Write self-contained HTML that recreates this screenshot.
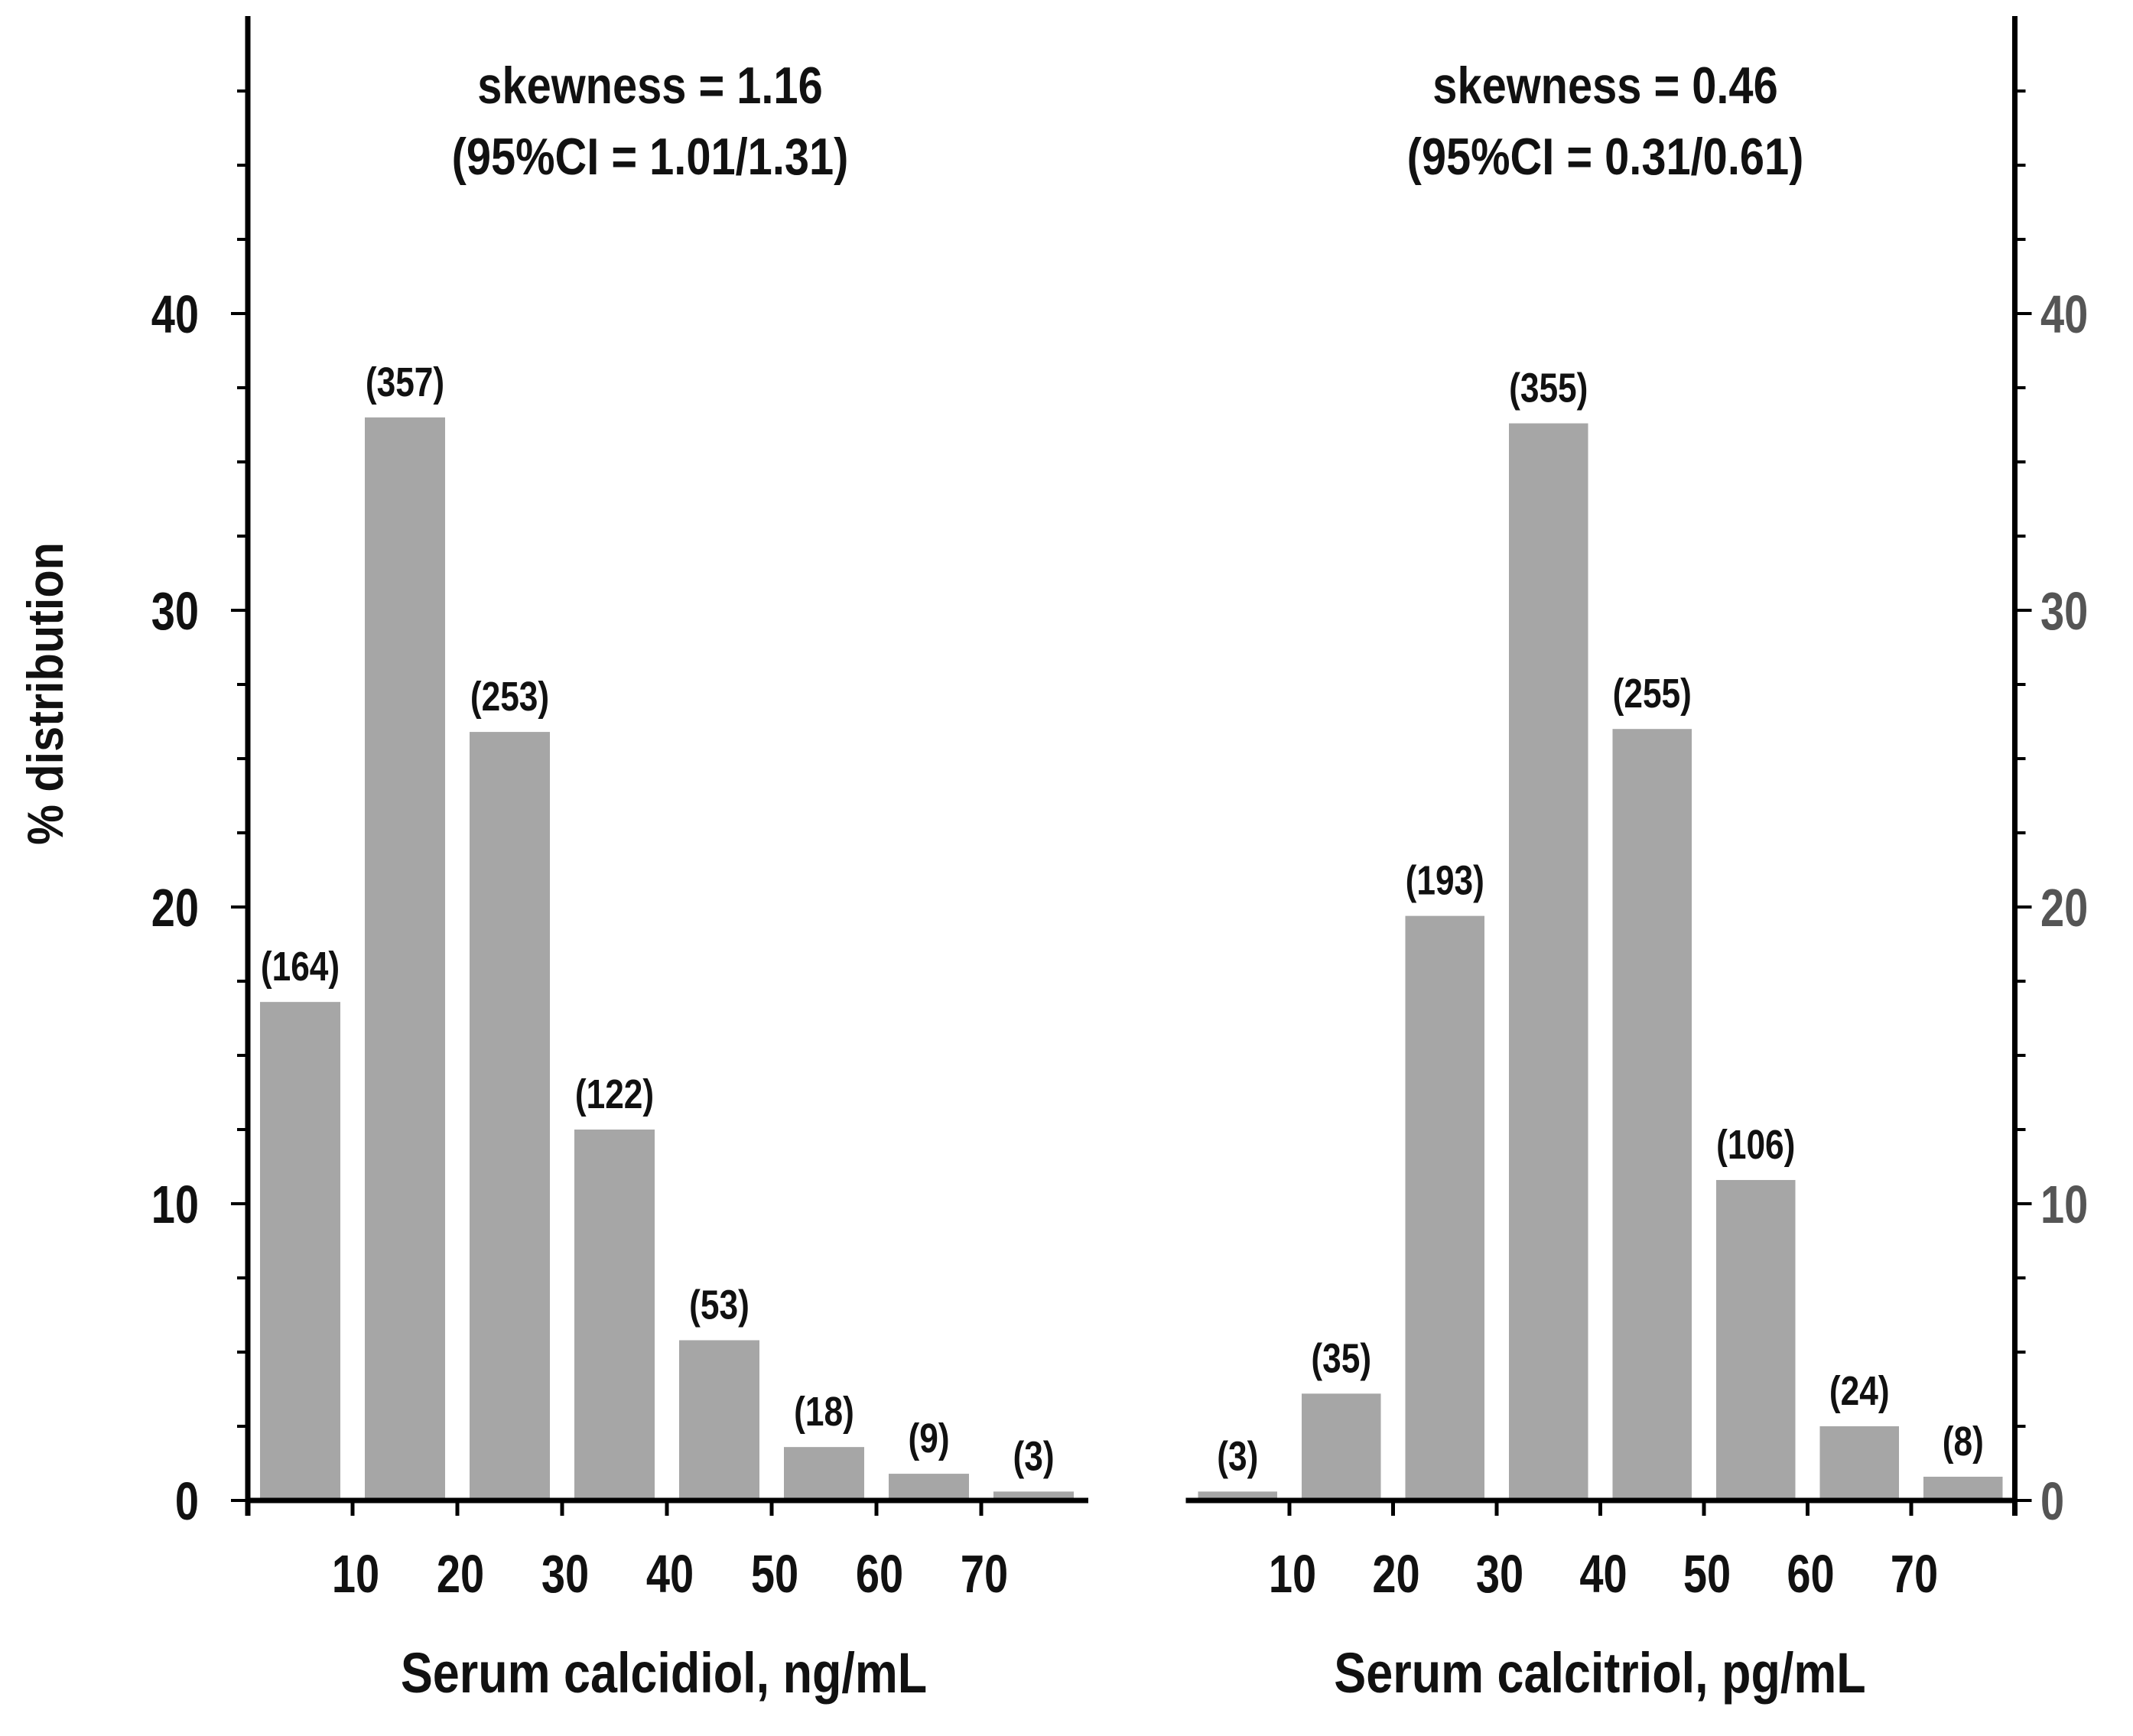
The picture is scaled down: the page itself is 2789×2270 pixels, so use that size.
<!DOCTYPE html>
<html><head><meta charset="utf-8"><style>
body{margin:0;background:#fff}
svg{display:block}
text{font-family:"Liberation Sans",sans-serif;font-weight:bold;fill:#111}
</style></head><body>
<svg id="chart" width="2789" height="2270" viewBox="0 0 2789 2270" xmlns="http://www.w3.org/2000/svg"></svg>
<script>
const bins = [0,10,20,30,40,50,60,70];
const xTicks = [10,20,30,40,50,60,70];
const yTicks = [0,10,20,30,40];
const leftPct = [16.8,36.5,25.9,12.5,5.4,1.8,0.9,0.3];
const leftCounts = ["(164)","(357)","(253)","(122)","(53)","(18)","(9)","(3)"];
const rightPct = [0.3,3.6,19.7,36.3,26.0,10.8,2.5,0.8];
const rightCounts = ["(3)","(35)","(193)","(355)","(255)","(106)","(24)","(8)"];

const NS="http://www.w3.org/2000/svg";
const svg=document.getElementById('chart');
function mk(tag,attrs,txt){const e=document.createElementNS(NS,tag);for(const k in attrs)e.setAttribute(k,attrs[k]);if(txt!==undefined)e.textContent=txt;svg.appendChild(e);return e;}
function tx(x,y,sx,size,anchor,txt,extra){
  const a={x:0,y:0,transform:'translate('+x+','+y+') scale('+sx+',1)','text-anchor':anchor,'font-size':size};
  if(extra)a.style=extra;
  return mk('text',a,txt);
}
const y0=1962, yUnit=38.8;
function yS(v){return y0-v*yUnit;}

function panel(side,x0,unit,pct,counts,title1,title2,xtitle){
  const xS=v=>x0+v*unit;
  const axisX = side==='left'?x0:xS(80);
  pct.forEach((p,i)=>{
    const r=mk('rect',{x:xS(bins[i])+16,y:yS(p),width:unit*10-32,height:y0-yS(p),fill:'#a6a6a6'});
    
    
    const t=tx(xS(bins[i]+5),yS(p)-28,0.82,54,'middle',counts[i]);
    
    
  });
  const xa=mk('line',{x1:xS(0),x2:xS(80)+3,y1:y0,y2:y0,stroke:'#000','stroke-width':7});
  
  
  xTicks.forEach(v=>{
    mk('line',{x1:xS(v),x2:xS(v),y1:y0,y2:y0+20,stroke:'#000','stroke-width':5});
    const t=tx(xS(v)+4,2082,0.8,70,'middle',v);
    
    
  });
  const xt=tx(side==='left'?868:2092,2213,0.85,74,'middle',xtitle);
  
  
  const ya=mk('line',{x1:axisX,x2:axisX,y1:21,y2:y0+20,stroke:'#000','stroke-width':7});
  
  
  const dir=side==='left'?-1:1;
  for(let v=0;v<=47.5;v+=2.5){
    const major=v%10===0;
    mk('line',{x1:axisX,x2:axisX+dir*(major?22:14),y1:yS(v),y2:yS(v),stroke:'#000','stroke-width':4});
  }
  yTicks.forEach(v=>{
    const t=tx(side==='left'?260:2668,yS(v)+25,0.8,70,side==='left'?'end':'start',v,side==='left'?'':'fill:#555');
    
    
  });
  const cx=side==='left'?850:2099;
  const a=tx(cx,135,0.85,68,'middle',title1);
  
  
  const b=tx(cx,228,0.85,68,'middle',title2);
  
  
}
panel('left',324,13.7,leftPct,leftCounts,'skewness = 1.16','(95%CI = 1.01/1.31)','Serum calcidiol, ng/mL');
panel('right',1550.5,135.5/10,rightPct,rightCounts,'skewness = 0.46','(95%CI = 0.31/0.61)','Serum calcitriol, pg/mL');
const yt=mk('text',{x:0,y:0,transform:'translate(82,907) rotate(-90) scale(0.9,1)','text-anchor':'middle','font-size':66},'% distribution');


</script>
</body></html>
